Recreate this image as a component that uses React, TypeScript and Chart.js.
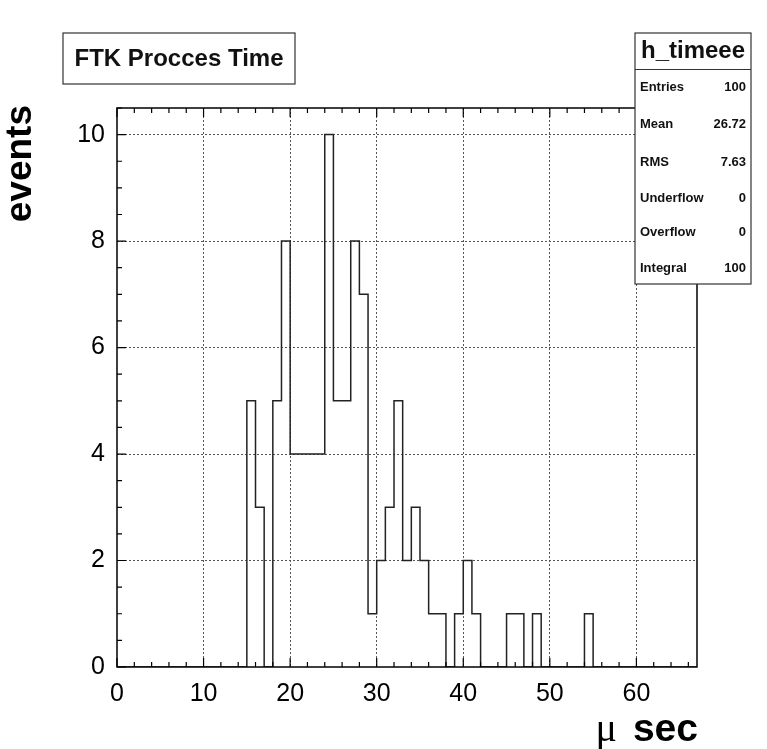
import React, { useEffect, useRef } from "react";
import { Chart, registerables } from "chart.js";

Chart.register(...registerables);

// Histogram: 67 bins of width 1 starting at 0 (µs)
const binLow = 0;
const binWidth = 1;
const counts = [
  0, 0, 0, 0, 0, 0, 0, 0, 0, 0, // 0-9
  0, 0, 0, 0, 0, 5, 3, 0, 5, 8, // 10-19
  4, 4, 4, 4, 10, 5, 5, 8, 7, 1, // 20-29
  2, 3, 5, 2, 3, 2, 1, 1, 0, 1, // 30-39
  2, 1, 0, 0, 0, 1, 1, 0, 1, 0, // 40-49
  0, 0, 0, 0, 1, 0, 0, 0, 0, 0, // 50-59
  0, 0, 0, 0, 0, 0, 0, // 60-66
];
const xMin = 0;
const xMax = 67;
const yMin = 0;
const yMax = 10.5;
const xTickValues = [0, 10, 20, 30, 40, 50, 60];
const yTickValues = [0, 2, 4, 6, 8, 10];
const xMinorStep = 2;
const yMinorStep = 0.5;

const titleText = "FTK Procces Time";
const yTitle = "events";
const xTitleSymbol = "\u03bc";
const xTitleUnit = "sec";
const statsName = "h_timeee";
const statsLabels = ["Entries", "Mean", "RMS", "Underflow", "Overflow", "Integral"];
const statsValues = ["100", "26.72", "7.63", "0", "0", "100"];

const SANS = "'Liberation Sans', Arial, Helvetica, sans-serif";
const SERIF = "'Liberation Serif', 'DejaVu Serif', serif";

const decorPlugin = {
  id: "decor",
  beforeDraw(chart: any) {
    const ctx = chart.ctx;
    ctx.save();
    ctx.fillStyle = "#ffffff";
    ctx.fillRect(0, 0, chart.width, chart.height);
    ctx.restore();
  },
  afterDraw(chart: any) {
    const ctx = chart.ctx;
    const a = chart.chartArea;
    const xs = chart.scales.x;
    const ys = chart.scales.y;
    ctx.save();
    // frame
    ctx.strokeStyle = "#000";
    ctx.lineWidth = 1.5;
    ctx.strokeRect(a.left, a.top, a.right - a.left, a.bottom - a.top);
    // x ticks (bottom and top)
    ctx.lineWidth = 1.2;
    ctx.beginPath();
    for (let v = xMin; v <= xMax + 1e-9; v += xMinorStep) {
      const px = xs.getPixelForValue(v);
      const major = xTickValues.includes(v);
      const len = major ? 9 : 5;
      ctx.moveTo(px, a.bottom);
      ctx.lineTo(px, a.bottom - len);
      ctx.moveTo(px, a.top);
      ctx.lineTo(px, a.top + len);
    }
    // y ticks (left)
    for (let v = yMin; v <= yMax + 1e-9; v += yMinorStep) {
      const py = ys.getPixelForValue(v);
      const major = yTickValues.includes(v);
      const len = major ? 9 : 5;
      ctx.moveTo(a.left, py);
      ctx.lineTo(a.left + len, py);
    }
    ctx.stroke();

    // Title box
    ctx.fillStyle = "#fff";
    ctx.fillRect(63, 33, 232, 51);
    ctx.strokeStyle = "#333";
    ctx.lineWidth = 1.2;
    ctx.strokeRect(63, 33, 232, 51);
    ctx.fillStyle = "#111";
    ctx.font = `bold 24px ${SANS}`;
    ctx.textAlign = "center";
    ctx.textBaseline = "middle";
    ctx.fillText(titleText, 179, 59);

    // Stats box
    const bx = 635, by = 33, bw = 116, bh = 251;
    ctx.fillStyle = "#fff";
    ctx.fillRect(bx, by, bw, bh);
    ctx.strokeStyle = "#333";
    ctx.strokeRect(bx, by, bw, bh);
    ctx.beginPath();
    ctx.moveTo(bx, 69.5);
    ctx.lineTo(bx + bw, 69.5);
    ctx.stroke();
    ctx.fillStyle = "#111";
    ctx.font = `bold 24px ${SANS}`;
    ctx.textAlign = "center";
    ctx.fillText(statsName, bx + bw / 2, 51);
    const rowY = [87, 124, 162, 198, 232, 268];
    ctx.font = `bold 13px ${SANS}`;
    statsLabels.forEach((lab, i) => {
      ctx.textAlign = "left";
      ctx.fillText(lab, 640, rowY[i]);
      ctx.textAlign = "right";
      ctx.fillText(statsValues[i], 746, rowY[i]);
    });

    // Y axis title
    ctx.save();
    ctx.translate(21, 105);
    ctx.rotate(-Math.PI / 2);
    ctx.font = `bold 37px ${SANS}`;
    ctx.textAlign = "right";
    ctx.textBaseline = "middle";
    ctx.fillStyle = "#000";
    ctx.fillText(yTitle, 0, 0);
    ctx.restore();

    // X axis title
    ctx.fillStyle = "#000";
    ctx.textBaseline = "alphabetic";
    ctx.textAlign = "right";
    ctx.font = `bold 39px ${SANS}`;
    const unitW = ctx.measureText(xTitleUnit).width;
    ctx.fillText(xTitleUnit, 698, 741);
    ctx.font = `40px ${SERIF}`;
    ctx.fillText(xTitleSymbol, 698 - unitW - 16, 741);
    ctx.restore();
  },
};

export default function App() {
  const ref = useRef<HTMLCanvasElement | null>(null);
  useEffect(() => {
    if (!ref.current) return;
    const points = counts.map((c, i) => ({ x: binLow + i * binWidth, y: c }));
    points.push({ x: binLow + counts.length * binWidth, y: 0 });
    const gridColor = (c: any) =>
      c.tick && c.tick.value === 0 ? "rgba(0,0,0,0)" : "#555";
    const chart = new Chart(ref.current, {
      type: "line",
      data: {
        datasets: [
          {
            data: points,
            stepped: "before",
            borderColor: "#222",
            borderWidth: 1.5,
            pointRadius: 0,
            fill: false,
          },
        ],
      },
      options: {
        animation: false,
        responsive: false,
        maintainAspectRatio: false,
        layout: { padding: { top: 108, right: 70, left: 0, bottom: 0 } },
        plugins: { legend: { display: false }, tooltip: { enabled: false } },
        scales: {
          x: {
            type: "linear",
            min: xMin,
            max: xMax,
            afterBuildTicks: (s: any) => {
              s.ticks = xTickValues.map((v) => ({ value: v }));
            },
            afterFit: (s: any) => {
              s.height = 82;
            },
            ticks: {
              font: { family: SANS, size: 25 },
              color: "#000",
              padding: 12,
              maxRotation: 0,
              autoSkip: false,
            },
            grid: {
              color: gridColor,
              lineWidth: 1,
              drawTicks: false,
            },
            border: { display: false, dash: [2, 2] },
          },
          y: {
            type: "linear",
            min: yMin,
            max: yMax,
            afterBuildTicks: (s: any) => {
              s.ticks = yTickValues.map((v) => ({ value: v }));
            },
            afterFit: (s: any) => {
              s.width = 117;
            },
            ticks: {
              font: { family: SANS, size: 25 },
              color: "#000",
              padding: 12,
              autoSkip: false,
            },
            grid: {
              color: gridColor,
              lineWidth: 1,
              drawTicks: false,
            },
            border: { display: false, dash: [2, 2] },
          },
        },
      },
      plugins: [decorPlugin],
    } as any);
    return () => chart.destroy();
  }, []);
  return (
    <div style={{ position: "absolute", left: 0, top: 0, width: 767, height: 749 }}>
      <canvas ref={ref} width={767} height={749} style={{ width: 767, height: 749, display: "block" }} />
    </div>
  );
}
